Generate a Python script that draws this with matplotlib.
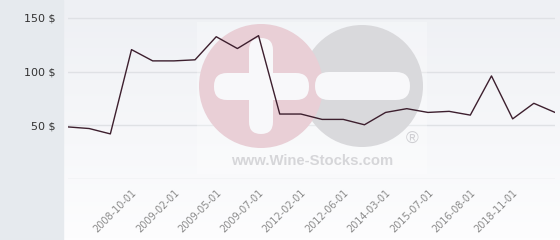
import numpy as np
import matplotlib
matplotlib.use("Agg")
import matplotlib.pyplot as plt
from matplotlib.colors import LinearSegmentedColormap
from matplotlib.patches import Rectangle, Circle, FancyBboxPatch
from matplotlib.transforms import Affine2D

# price history (one point per record, only every other one gets a date label)
prices = [48.5, 47, 42, 120.5, 110, 110, 111, 132.5, 121.5, 133.5, 60.5, 60.5,
          55.5, 55.5, 50.5, 62, 65.5, 62, 63, 59.5, 96, 56, 70.5, 62]
date_labels = ["2008-10-01", "2009-02-01", "2009-05-01", "2009-07-01", "2012-02-01",
               "2012-06-01", "2014-03-01", "2015-07-01", "2016-08-01", "2018-11-01"]
y_values = [0, 50, 100, 150]
y_labels = ["", "50 $", "100 $", "150 $"]

W, H = 560, 240
fig = plt.figure(figsize=(W / 100, H / 100), dpi=100)

# background: grey side panel + soft vertical gradient
bg = fig.add_axes([0, 0, 1, 1])
bg.axis("off")
grad = LinearSegmentedColormap.from_list("bg", ["#eef0f4", "#fdfdfe"])
bg.imshow(np.linspace(0, 1, 120).reshape(-1, 1), extent=(64, W, H, 0), cmap=grad, aspect="auto")
bg.add_patch(Rectangle((0, 0), 63, H, color="#e6eaee"))
bg.set_xlim(0, W)
bg.set_ylim(H, 0)

ax = fig.add_axes([68 / W, (H - 179) / H, (555 - 68) / W, 179 / H])
ax.patch.set_alpha(0)
x = np.arange(len(prices))
ax.plot(x, prices, color="#3d1f2e", lw=1.0, zorder=3)
ax.set_xlim(0, len(prices) - 1)
ax.set_ylim(0, 166.7)

ax.set_yticks(y_values)
ax.set_yticklabels(y_labels, fontsize=8, color="#333333")
ax.set_xticks(x[3::2][:len(date_labels)])
ax.set_xticklabels(date_labels, fontsize=7, color="#8a8a8a", rotation=45,
                   ha="right", va="top", rotation_mode="anchor")
ax.tick_params(axis="y", length=0, pad=9)
ax.tick_params(axis="x", length=0, pad=6)
ax.grid(axis="y", color="#dfe1e5", lw=1)
ax.set_axisbelow(True)
for s in ax.spines.values():
    s.set_visible(False)

# watermark, drawn in pixel coords (y down)
px = Affine2D().scale(1 / W, -1 / H).translate(0, 1) + fig.transFigure
wm = dict(transform=px, clip_on=False)
ax.add_patch(Rectangle((197, 22), 230, 152, color="white", alpha=0.3, lw=0, zorder=1, **wm))
ax.add_patch(Circle((362, 86), 61, color="#d9d9dc", lw=0, zorder=1.1, **wm))
ax.add_patch(Circle((261, 86), 62, color="#e9cfd6", lw=0, zorder=1.2, **wm))
ax.add_patch(FancyBboxPatch((249, 38), 24, 96, boxstyle="round,pad=0,rounding_size=12",
                            color="#f8f8fa", lw=0, zorder=1.3, **wm))
ax.add_patch(FancyBboxPatch((214, 73), 95, 27, boxstyle="round,pad=0,rounding_size=13",
                            color="#f8f8fa", lw=0, zorder=1.3, **wm))
ax.add_patch(FancyBboxPatch((315, 72), 95, 28, boxstyle="round,pad=0,rounding_size=14",
                            color="#f8f8fa", lw=0, zorder=1.3, **wm))
ax.text(312, 161, "www.Wine-Stocks.com", fontsize=10.7, fontweight="bold",
        family="Liberation Sans", color="#d6d6d9", ha="center", va="center", zorder=1.4, **wm)
ax.text(412, 139, "\u00ae", fontsize=12.5, family="Liberation Sans",
        color="#cfcfd3", ha="center", va="center", zorder=1.4, **wm)

plt.savefig("out.png", dpi=100)
